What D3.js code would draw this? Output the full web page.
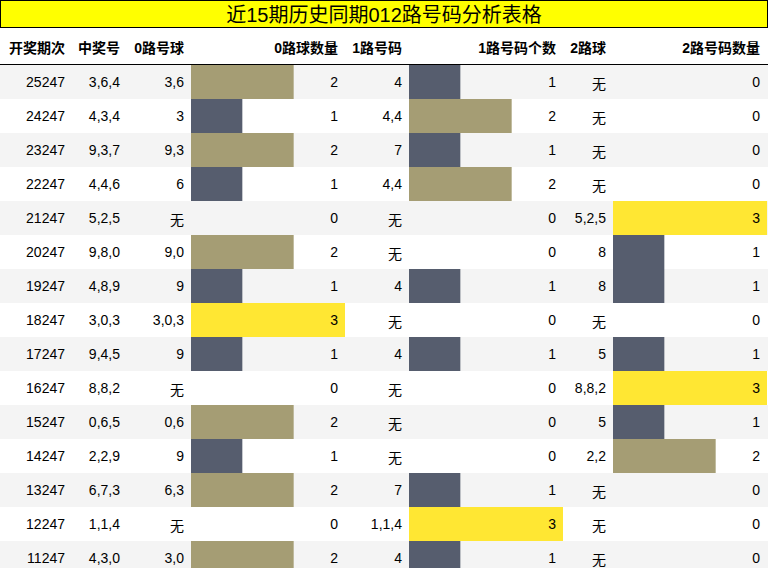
<!DOCTYPE html>
<html><head><meta charset="utf-8">
<script src="https://cdn.jsdelivr.net/npm/d3@7"></script>
<style>body{margin:0;background:#fff}text{font-family:"Liberation Sans","Noto Sans CJK SC",sans-serif}</style>
</head><body><div id="chart"></div>
<script>
var periods = ['25247','24247','23247','22247','21247','20247','19247','18247','17247','16247','15247','14247','13247','12247','11247']
var draws = ['3,6,4','4,3,4','9,3,7','4,4,6','5,2,5','9,8,0','4,8,9','3,0,3','9,4,5','8,8,2','0,6,5','2,2,9','6,7,3','1,1,4','4,3,0']
var road0 = ['3,6','3','9,3','6','无','9,0','9','3,0,3','9','无','0,6','9','6,3','无','3,0']
var road0Count = [2,1,2,1,0,2,1,3,1,0,2,1,2,0,2]
var road1 = ['4','4,4','7','4,4','无','无','4','无','4','无','无','无','7','1,1,4','4']
var road1Count = [1,2,1,2,0,0,1,0,1,0,0,0,1,3,1]
var road2 = ['无','无','无','无','5,2,5','8','8','无','5','8,8,2','5','2,2','无','无','无']
var road2Count = [0,0,0,0,3,1,1,0,1,3,1,2,0,0,0]
var headers = ['开奖期次','中奖号','0路号球','0路球数量','1路号码','1路号码个数','2路球','2路号码数量']

var W = 768, H = 568, rowH = 34, tableTop = 65
var svg = d3.select('#chart').append('svg').attr('width', W).attr('height', H)

svg.append('rect').attr('x', 0.5).attr('y', 0.5).attr('width', W - 1).attr('height', 27)
    .attr('fill', '#ffff00').attr('stroke', '#000')
svg.append('text').attr('x', W / 2).attr('y', 22).attr('text-anchor', 'middle')
    .attr('font-size', 20).text('近15期历史同期012路号码分析表格')

var textCols = [65, 120, 184, null, 402, null, 606, null]
var barCols = [{start: 191, end: 345, count: road0Count, text: 338},
               {start: 409, end: 563, count: road1Count, text: 556},
               {start: 613, end: 767, count: road2Count, text: 760}]
var headerX = [65, 120, 184, 338, 402, 556, 606, 760]
var color = d3.scaleOrdinal().domain([1, 2, 3]).range(['#565d6e', '#a59d74', '#ffe733'])

headers.forEach(function (h, i) {
    svg.append('text').attr('x', headerX[i]).attr('y', 53).attr('text-anchor', 'end')
        .attr('font-size', 14).attr('font-weight', 'bold').text(h)
})
svg.append('line').attr('x1', 0).attr('x2', W).attr('y1', 64.5).attr('y2', 64.5).attr('stroke', '#000')

var y = d3.scaleBand().domain(d3.range(periods.length)).range([tableTop, tableTop + rowH * periods.length])

var rows = svg.selectAll('g.row').data(periods).enter().append('g').attr('class', 'row')
    .attr('transform', function (d, i) { return 'translate(0,' + y(i) + ')' })
rows.append('rect').attr('width', W).attr('height', y.bandwidth())
    .attr('fill', function (d, i) { return i % 2 === 0 ? '#f4f4f4' : '#fff' })

barCols.forEach(function (c) {
    var x = d3.scaleLinear().domain([0, 3]).range([c.start, c.end])
    rows.append('rect').attr('x', c.start).attr('height', y.bandwidth())
        .attr('width', function (d, i) { return x(c.count[i]) - c.start })
        .attr('fill', function (d, i) { return c.count[i] ? color(c.count[i]) : 'none' })
    rows.append('text').attr('x', c.text).attr('y', 22).attr('text-anchor', 'end')
        .attr('font-size', 14).text(function (d, i) { return c.count[i] })
})

var cols = [periods, draws, road0, null, road1, null, road2]
cols.forEach(function (arr, ci) {
    if (!arr) return
    rows.append('text').attr('x', textCols[ci]).attr('y', function (d, i) { return arr[i] === '无' ? 24 : 22 })
        .attr('text-anchor', 'end').attr('font-size', 14)
        .text(function (d, i) { return arr[i] })
})
</script></body></html>
